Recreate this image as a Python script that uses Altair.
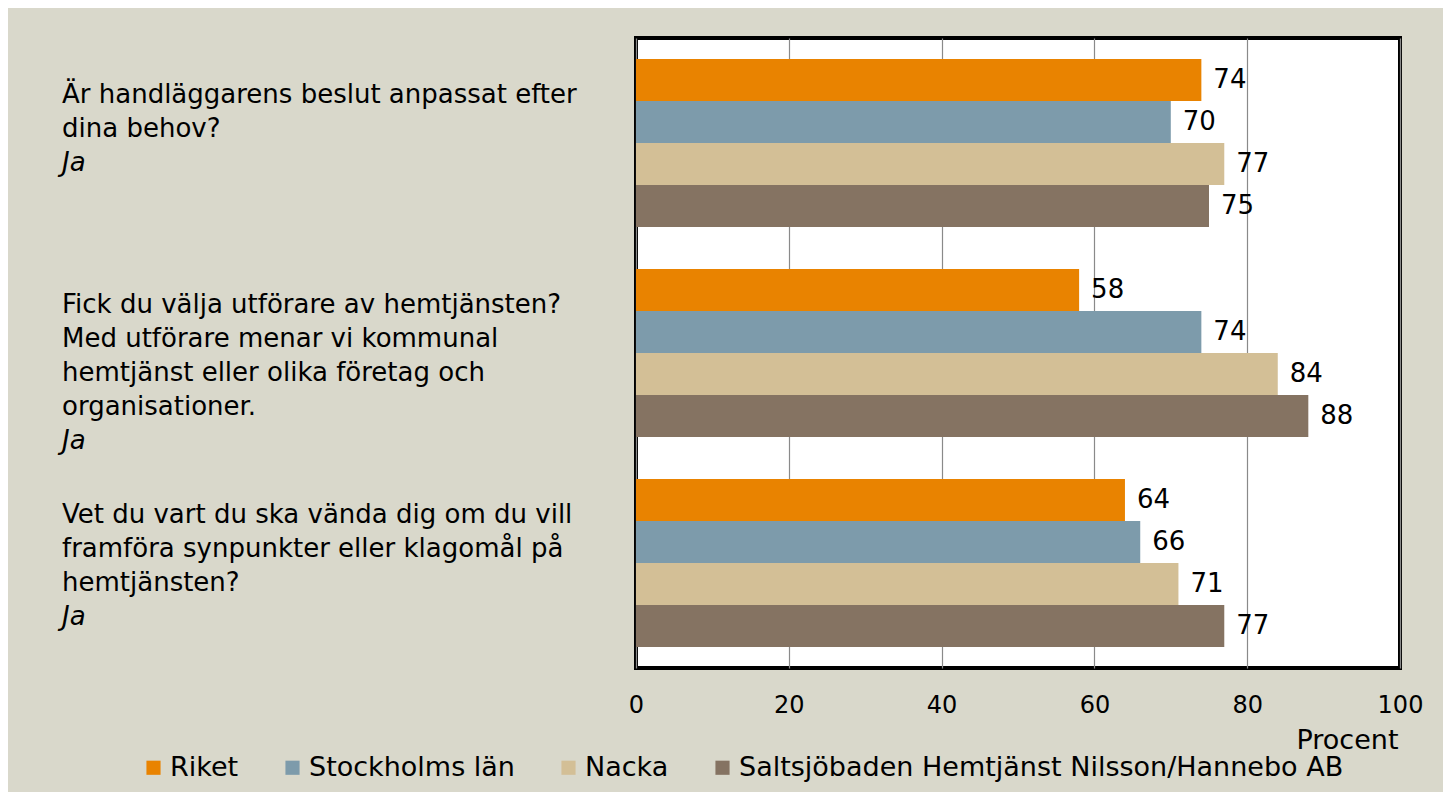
import altair as alt
import pandas as pd

questions = ["Q1", "Q2", "Q3"]
question_lines = [
    ["Är handläggarens beslut anpassat efter", "dina behov?"],
    ["Fick du välja utförare av hemtjänsten?", "Med utförare menar vi kommunal",
     "hemtjänst eller olika företag och", "organisationer."],
    ["Vet du vart du ska vända dig om du vill", "framföra synpunkter eller klagomål på",
     "hemtjänsten?"],
]
answer = "Ja"
series = ["Riket", "Stockholms län", "Nacka", "Saltsjöbaden Hemtjänst Nilsson/Hannebo AB"]
colors = ["#E98300", "#7D9BAB", "#D3BF96", "#857362"]
riket = [74, 58, 64]
stockholm = [70, 74, 66]
nacka = [77, 84, 71]
saltsjo = [75, 88, 77]

rows = []
for i, q in enumerate(questions):
    for s, vals in zip(series, [riket, stockholm, nacka, saltsjo]):
        rows.append({"q": q, "series": s, "value": vals[i]})
df = pd.DataFrame(rows)

labdf = pd.DataFrame({"q": questions,
                      "main": ["|".join(lines) for lines in question_lines],
                      "ja": [answer] * len(questions)})

FONT = "DejaVu Sans"
LH = 34
TOP = -48

yenc = alt.Y("q:N", sort=questions, axis=None,
             scale=alt.Scale(paddingInner=0.2, paddingOuter=0.1))
yoff = alt.YOffset("series:N", sort=series, scale=alt.Scale(paddingInner=0, paddingOuter=0))

bars = alt.Chart(df).mark_bar().encode(
    y=yenc,
    yOffset=yoff,
    x=alt.X("value:Q", scale=alt.Scale(domain=[0, 100]),
            axis=alt.Axis(values=[0, 20, 40, 60, 80, 100], title="Procent",
                          grid=True, gridColor="#8a8a8a", gridWidth=1.2,
                          ticks=False, domain=False, labelFontSize=24,
                          labelFont=FONT, labelColor="#000", labelPadding=25,
                          labelFlush=False, labelOverlap=False,
                          titleFont=FONT, titleFontSize=27, titleFontWeight="normal",
                          titleColor="#000", titleX=762, titleY=72,
                          titleAlign="right", titleBaseline="middle")),
    color=alt.Color("series:N", sort=series,
                    scale=alt.Scale(domain=series, range=colors),
                    legend=alt.Legend(title=None, orient="none", direction="horizontal",
                                      legendX=-496, legendY=716,
                                      symbolType="square", symbolSize=200,
                                      symbolStrokeWidth=0, symbolOpacity=1,
                                      labelFont=FONT, labelFontSize=27, labelColor="#000",
                                      labelLimit=800, columnPadding=40, labelOffset=3)),
)

values = alt.Chart(df).mark_text(align="left", baseline="middle", dx=12,
                                 font=FONT, fontSize=26, color="#000").encode(
    y=yenc,
    yOffset=yoff,
    x=alt.X("value:Q"),
    text=alt.Text("value:Q"),
)

qtext = alt.Chart(labdf).mark_text(align="left", baseline="middle", lineBreak="|",
                                   lineHeight=LH, dy=TOP, font=FONT, fontSize=26,
                                   color="#000").encode(
    y=yenc, x=alt.value(-574), text="main:N")

layers = [bars, values, qtext]
for q, lines in zip(questions, question_lines):
    layers.append(
        alt.Chart(labdf).transform_filter(alt.datum.q == q).mark_text(
            align="left", baseline="middle", dy=TOP + LH * len(lines),
            font=FONT, fontSize=26, fontStyle="italic", color="#000").encode(
            y=yenc, x=alt.value(-574), text="ja:N")
    )

chart = alt.layer(*layers).properties(
    width=764, height=630,
    background="#D9D8CB",
    padding={"left": 628, "top": 30, "right": 43, "bottom": 124},
    autosize=alt.AutoSizeParams(type="none"),
).configure_view(fill="white", stroke="#000", strokeWidth=4)

chart.save("out.html", embed_options={"renderer": "svg", "actions": False})
